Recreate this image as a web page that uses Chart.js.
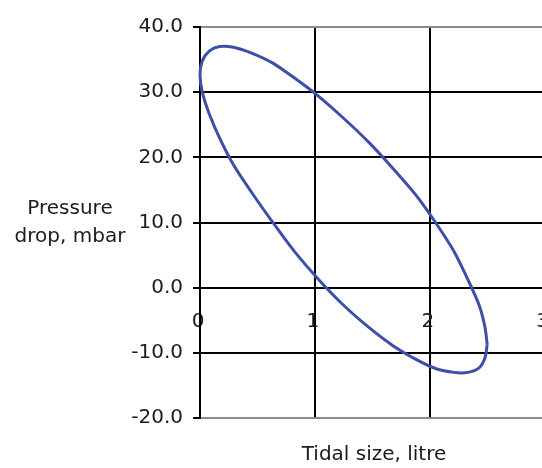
<!DOCTYPE html>
<html>
<head>
<meta charset="utf-8">
<script src="https://cdn.jsdelivr.net/npm/chart.js@4/dist/chart.umd.min.js"></script>
<style>
  html, body { margin: 0; padding: 0; background: #fff; overflow: hidden; }
  #wrap { width: 573px; height: 468px; }
</style>
</head>
<body>
<div id="wrap"><canvas id="c" width="573" height="468"></canvas></div>
<script>
// Tidal size (litre) against pressure drop (mbar) around one breathing loop
const tidalSize = [2.50, 2.48, 2.43, 2.33, 2.21, 2.05, 1.88, 1.68, 1.47, 1.25, 1.03, 0.82, 0.63, 0.45, 0.29, 0.17, 0.08, 0.02, 0.00,
                   0.02, 0.08, 0.17, 0.29, 0.45, 0.63, 0.82, 1.03, 1.25, 1.47, 1.68, 1.88, 2.05, 2.21, 2.33, 2.43, 2.48, 2.50];
const pressureDrop = [-8.7, -6.0, -2.7, 1.3, 5.6, 10.0, 14.2, 18.3, 22.3, 26.0, 29.4, 32.2, 34.5, 36.0, 36.9, 37.0, 36.3, 34.8, 32.7,
                      30.0, 26.7, 23.0, 18.9, 14.6, 10.1, 5.6, 1.3, -2.7, -6.1, -8.9, -11.0, -12.4, -13.0, -13.0, -12.3, -10.8, -8.7];

const xTicks = [0, 1, 2, 3];
const yTicks = [-20, -10, 0, 10, 20, 30, 40];
const yTitleLines = ['Pressure', 'drop, mbar'];
const xTitle = 'Tidal size, litre';

const FONT = '"DejaVu Sans", sans-serif';
const TEXT = '#1c1c1c';

const points = tidalSize.map((x, i) => ({ x: x, y: pressureDrop[i] }));

const axisTitles = {
  id: 'axisTitles',
  afterDraw(chart) {
    const ctx = chart.ctx;
    const area = chart.chartArea;
    ctx.save();
    ctx.font = '20px ' + FONT;
    ctx.fillStyle = TEXT;
    ctx.textAlign = 'center';
    ctx.textBaseline = 'middle';
    ctx.fillText(yTitleLines[0], 70, 209);
    ctx.fillText(yTitleLines[1], 70, 237);
    ctx.fillText(xTitle, 374, area.bottom + 37);
    ctx.restore();
  }
};

new Chart(document.getElementById('c'), {
  type: 'scatter',
  data: {
    datasets: [{
      data: points,
      showLine: true,
      borderColor: '#3d4fa6',
      borderWidth: 3,
      pointRadius: 0,
      tension: 0.3,
      fill: false,
      clip: false
    }]
  },
  options: {
    responsive: false,
    animation: false,
    devicePixelRatio: 1,
    layout: { padding: { top: 27, bottom: 50, right: 10, left: 0 } },
    plugins: { legend: { display: false }, tooltip: { enabled: false } },
    scales: {
      x: {
        type: 'linear',
        position: { y: 0 },
        min: 0,
        max: 3,
        afterBuildTicks(scale) { scale.ticks = xTicks.map(v => ({ value: v })); },
        ticks: {
          color: TEXT,
          font: { family: FONT, size: 20 },
          padding: 22,
          labelOffset: -2,
          callback: v => String(v)
        },
        grid: {
          color: '#000',
          lineWidth: 2,
          drawTicks: false
        },
        border: { display: true, color: '#000', width: 2 }
      },
      y: {
        type: 'linear',
        min: -20,
        max: 40,
        afterBuildTicks(scale) { scale.ticks = yTicks.map(v => ({ value: v })); },
        afterFit(scale) { scale.width = 200; },
        ticks: {
          color: TEXT,
          font: { family: FONT, size: 20 },
          padding: 10,
          callback: v => Number(v).toFixed(1)
        },
        grid: {
          color: ctx => (ctx.tick && (ctx.tick.value === 40 || ctx.tick.value === -20)) ? '#8c8c8c' : '#000',
          tickColor: '#000',
          lineWidth: 2,
          tickLength: 7
        },
        border: { display: true, color: '#000', width: 2 }
      }
    }
  },
  plugins: [axisTitles]
});
</script>
</body>
</html>
